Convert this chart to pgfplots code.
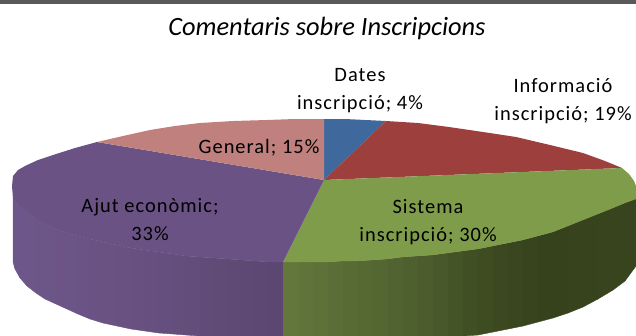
\documentclass[border=0pt]{standalone}
\usepackage{pgfplots}
\pgfplotsset{compat=1.18}
\usepackage{fontspec}
\setmainfont{Carlito}
\definecolor{cblue}{HTML}{3F699C}
\definecolor{cred}{HTML}{9C3F3D}
\definecolor{cgreen}{HTML}{7F9C4B}
\definecolor{cpurple}{HTML}{6A5284}
\definecolor{cpink}{HTML}{C0807E}
\definecolor{cbar}{HTML}{595959}
\tikzset{lab/.style={font=\fontsize{20.5}{28}\selectfont\addfontfeatures{LetterSpace=5},align=center,text=black,inner sep=0pt}}
\begin{document}
\begin{tikzpicture}
\begin{axis}[
  width=636bp,height=336bp,scale only axis,
  xmin=0,xmax=636,ymin=0,ymax=336,y dir=reverse,
  hide axis,
  point meta min=0,point meta max=1000,
  colormap={pie}{
    rgb255(0)=(110,87,138) rgb255(130)=(105,82,130) rgb255(283)=(90,70,112)
    rgb255(284)=(100,120,60) rgb255(584)=(100,120,60) rgb255(716)=(78,95,46) rgb255(783)=(62,76,34)
    rgb255(840)=(54,66,28) rgb255(1000)=(58,70,30)},
]
% top bar
\addplot[fill=cbar,draw=none] coordinates {(0,0)(636,0)(636,4)(0,4)};
% side strips
\addplot[patch,patch type=rectangle,shader=flat,point meta=explicit]
 table[row sep=\\,x=x,y=y,meta=c]{
 x y c\\
 13 199 14\\ 15 201 14\\ 15 269 14\\ 13 262 14\\
 15 201 18\\ 20 207 18\\ 20 278 18\\ 15 269 18\\
 20 207 24\\ 27 212 24\\ 27 286 24\\ 20 278 24\\
 27 212 32\\ 36 219 32\\ 36 293 32\\ 27 286 32\\
 36 219 41\\ 45 224 41\\ 45 299 41\\ 36 293 41\\
 45 224 50\\ 56 229 50\\ 56 304 50\\ 45 299 50\\
 56 229 62\\ 67 233 62\\ 67 309 62\\ 56 304 62\\
 67 233 72\\ 78 236 72\\ 78 314 72\\ 67 309 72\\
 78 236 84\\ 90 239 84\\ 90 319 84\\ 78 314 84\\
 90 239 96\\ 103 242 96\\ 103 323 96\\ 90 319 96\\
 103 242 110\\ 117 245 110\\ 117 326 110\\ 103 323 110\\
 117 245 124\\ 131 248 124\\ 131 329 124\\ 117 326 124\\
 131 248 138\\ 145 250 138\\ 145 331 138\\ 131 329 138\\
 145 250 152\\ 159 252 152\\ 159 333 152\\ 145 331 152\\
 159 252 166\\ 173 254 166\\ 173 334 166\\ 159 333 166\\
 173 254 180\\ 186 256 180\\ 186 335 180\\ 173 334 180\\
 186 256 193\\ 200 257 193\\ 200 336 193\\ 186 335 193\\
 200 257 207\\ 214 258 207\\ 214 336 207\\ 200 336 207\\
 214 258 221\\ 228 259 221\\ 228 336 221\\ 214 336 221\\
 228 259 234\\ 241 260 234\\ 241 336 234\\ 228 336 234\\
 241 260 248\\ 255 261 248\\ 255 336 248\\ 241 336 248\\
 255 261 262\\ 269 262 262\\ 269 336 262\\ 255 336 262\\
 269 262 276\\ 283 262 276\\ 283 336 276\\ 269 336 276\\
 283 262 590\\ 298 262 590\\ 298 336 590\\ 283 336 590\\
 298 262 605\\ 313 262 605\\ 313 336 605\\ 298 336 605\\
 313 262 620\\ 328 262 620\\ 328 336 620\\ 313 336 620\\
 328 262 635\\ 343 261 635\\ 343 336 635\\ 328 336 635\\
 343 261 650\\ 358 261 650\\ 358 336 650\\ 343 336 650\\
 358 261 665\\ 373 260 665\\ 373 336 665\\ 358 336 665\\
 373 260 680\\ 388 259 680\\ 388 336 680\\ 373 336 680\\
 388 259 695\\ 403 257 695\\ 403 336 695\\ 388 336 695\\
 403 257 710\\ 418 256 710\\ 418 336 710\\ 403 336 710\\
 418 256 725\\ 433 255 725\\ 433 336 725\\ 418 336 725\\
 433 255 740\\ 448 253 740\\ 448 336 740\\ 433 336 740\\
 448 253 755\\ 463 251 755\\ 463 336 755\\ 448 336 755\\
 463 251 770\\ 478 249 770\\ 478 335 770\\ 463 336 770\\
 478 249 785\\ 493 246 785\\ 493 332 785\\ 478 335 785\\
 493 246 800\\ 508 243 800\\ 508 329 800\\ 493 332 800\\
 508 243 815\\ 523 240 815\\ 523 326 815\\ 508 329 815\\
 523 240 830\\ 538 236 830\\ 538 322 830\\ 523 326 830\\
 538 236 845\\ 553 232 845\\ 553 318 845\\ 538 322 845\\
 553 232 860\\ 568 226 860\\ 568 313 860\\ 553 318 860\\
 568 226 875\\ 583 220 875\\ 583 307 875\\ 568 313 875\\
 583 220 890\\ 598 214 890\\ 598 299 890\\ 583 307 890\\
 598 214 905\\ 613 208 905\\ 613 290 905\\ 598 299 905\\
 613 208 919\\ 625 203 919\\ 625 281 919\\ 613 290 919\\
 625 203 930\\ 636 199 930\\ 636 266 930\\ 625 281 930\\
};
% top face
\addplot[fill=cblue,draw=none] coordinates {(324,180)(324,119)(345,119)(386,121)};
\addplot[fill=cred,draw=none] coordinates {(324,180)(386,121)(418,123)(449,127)(483,132)(516,137)(550,145)(583,153)(605,161)(622,168)};
\addplot[fill=cgreen,draw=none] coordinates {(324,180)(622,168)(629,174)(634,181)(636,186)(636,199)(625,203)(613,208)(598,214)(583,220)(568,226)(553,232)(538,236)(523,240)(508,243)(493,246)(478,249)(463,251)(448,253)(433,255)(418,256)(403,257)(388,259)(373,260)(358,261)(343,261)(328,262)(313,262)(298,262)(283,262)};
\addplot[fill=cpurple,draw=none] coordinates {(324,180)(283,262)(269,262)(255,261)(241,260)(228,259)(214,258)(200,257)(186,256)(173,254)(159,252)(145,250)(131,248)(117,245)(103,242)(90,239)(78,236)(67,233)(56,229)(45,224)(36,219)(27,212)(20,207)(15,201)(13,199)(12,186)(13,176)(18,170)(25,166)(38,160)(53,155)(75,148)(97,142)};
\addplot[fill=cpink,draw=none] coordinates {(324,180)(97,142)(123,136)(150,130)(175,126)(200,123)(233,121)(267,120)(295,119)(324,119)};
% labels
\node[font=\fontsize{26.5}{30}\selectfont\itshape,inner sep=0pt] at (axis cs:327,28) {Comentaris sobre Inscripcions};
\node[lab] at (axis cs:360,91) {Dates\\inscripció; 4\%};
\node[lab] at (axis cs:563,101) {Informació\\inscripció; 19\%};
\node[lab] at (axis cs:259,148) {General; 15\%};
\node[lab] at (axis cs:150,220) {Ajut econòmic;\\33\%};
\node[lab] at (axis cs:428,222) {Sistema\\inscripció; 30\%};
\end{axis}
\end{tikzpicture}
\end{document}
